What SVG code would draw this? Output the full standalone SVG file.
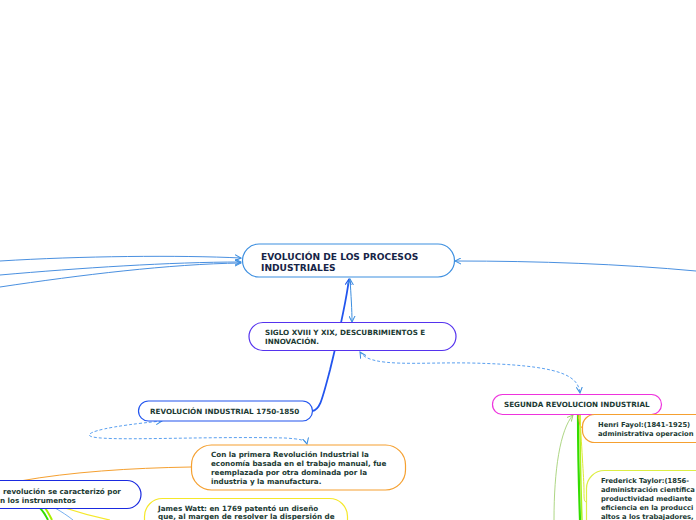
<svg xmlns="http://www.w3.org/2000/svg" width="696" height="520" viewBox="0 0 696 520">
<defs>
<style>
.t{font-family:"DejaVu Sans",Verdana,sans-serif;font-weight:bold;fill:#1b3a33;font-size:7.2px}
.r{font-size:6.75px}
.tm{font-family:"DejaVu Sans",Verdana,sans-serif;font-weight:bold;fill:#162447;font-size:9.1px}
.n{fill:#fff;stroke-width:1.2}
.c{fill:none}
</style>
<marker id="ab" viewBox="0 0 8 8" refX="7" refY="4" markerWidth="7" markerHeight="7" orient="auto-start-reverse" markerUnits="userSpaceOnUse"><path d="M0,0.5 L7,4 L0,7.5" fill="none" stroke="#3d8fe0" stroke-width="1.2"/></marker>
<marker id="ab2" viewBox="0 0 8 8" refX="7" refY="4" markerWidth="7" markerHeight="7" orient="auto-start-reverse" markerUnits="userSpaceOnUse"><path d="M0,0.5 L7,4 L0,7.5" fill="none" stroke="#2255ee" stroke-width="1.2"/></marker>
<marker id="ag" viewBox="0 0 8 8" refX="7" refY="4" markerWidth="7" markerHeight="7" orient="auto" markerUnits="userSpaceOnUse"><path d="M0,0.5 L7,4 L0,7.5" fill="none" stroke="#99cc66" stroke-width="1"/></marker>
</defs>
<rect width="696" height="520" fill="#fff"/>
<g id="connectors">
<path class="c" d="M0,261 C80,256 180,255 241,258" stroke="#4a90e0" stroke-width="1" marker-end="url(#ab)"/>
<path class="c" d="M0,275 C80,268 170,262 241,262" stroke="#4a90e0" stroke-width="1" marker-end="url(#ab)"/>
<path class="c" d="M0,287 C80,275 170,264 241,263" stroke="#4a90e0" stroke-width="1" marker-end="url(#ab)"/>
<path class="c" d="M696,271 C620,264 540,261 455,261" stroke="#4a90e0" stroke-width="1" marker-end="url(#ab)"/>
<path class="c" d="M349,279 C345,310 336,345 330,370 C322,400 320,410 312,411" stroke="#2255ee" stroke-width="1.8" marker-start="url(#ab2)"/>
<path class="c" d="M350,279 C351,295 352,310 352,322" stroke="#3d8fe0" stroke-width="1" marker-start="url(#ab)" marker-end="url(#ab)"/>
<path class="c" d="M360,352 C370,368 420,362 470,363 C560,365 578,375 580,393" stroke="#5aa0f0" stroke-width="1" stroke-dasharray="3,2" marker-start="url(#ab)" marker-end="url(#ab)"/>
<path class="c" d="M162,421 C110,426 85,432 90,436 C100,442 200,436 285,438 C300,439 306,440 307,444" stroke="#5aa0f0" stroke-width="1" stroke-dasharray="3,2" marker-start="url(#ab)" marker-end="url(#ab)"/>
<path class="c" d="M191,467 C130,468 70,472 20,481" stroke="#f5a030" stroke-width="1"/>
<path class="c" d="M40,508 C44,512 46,516 48,520" stroke="#33dd00" stroke-width="2"/>
<path class="c" d="M45,508 C48,512 50,516 52,520" stroke="#aaee00" stroke-width="2"/>
<path class="c" d="M55,508 C62,512 68,516 73,520" stroke="#77b0f0" stroke-width="1"/>
<path class="c" d="M65,508 C80,513 95,517 110,520" stroke="#f5e82a" stroke-width="1.2"/>
<path class="c" d="M578,414 C578,450 579,490 580,520" stroke="#33dd00" stroke-width="2.2"/>
<path class="c" d="M580,414 C580,450 581,490 582,520" stroke="#aaee22" stroke-width="1.5"/>
<path class="c" d="M578,414 C579,422 580,428 583,428" stroke="#f5a030" stroke-width="1"/>
<path class="c" d="M580,414 C581,440 584,480 584,490 C584,500 584,502 587,502" stroke="#dde830" stroke-width="1"/>
<path class="c" d="M554,520 C554,470 560,430 573,415" stroke="#99cc66" stroke-width="0.8" marker-end="url(#ag)"/>
</g>
<g id="main">
<rect class="n" x="242.5" y="244" width="212" height="33" rx="16.5" stroke="#3d8fe0"/>
<text class="tm" x="261" y="259.5">EVOLUCIÓN DE LOS PROCESOS</text>
<text class="tm" x="261" y="270.5">INDUSTRIALES</text>
</g>
<g id="siglo">
<rect class="n" x="249" y="322.5" width="207" height="28" rx="14" stroke="#5533ee"/>
<text class="t" x="265" y="334.5">SIGLO XVIII Y XIX, DESCUBRIMIENTOS E</text>
<text class="t" x="265" y="344">INNOVACIÓN.</text>
</g>
<g id="rev1">
<rect class="n" x="138.5" y="401" width="174" height="20" rx="10" stroke="#2255ee"/>
<text class="t" x="150" y="413.5">REVOLUCIÓN INDUSTRIAL 1750-1850</text>
</g>
<g id="primera">
<rect class="n" x="191.5" y="445" width="214" height="45" rx="20" stroke="#f5a030"/>
<text class="t" x="211" y="456.5">Con la primera Revolución Industrial la</text>
<text class="t" x="211" y="465.5">economía basada en el trabajo manual, fue</text>
<text class="t" x="211" y="474.5">reemplazada por otra dominada por la</text>
<text class="t" x="211" y="483.5">industria y la manufactura.</text>
</g>
<g id="caracterizo">
<rect class="n" x="-20" y="480.5" width="161" height="28" rx="14" stroke="#1a2ae0"/>
<text class="t" x="3" y="493.5">revolución se caracterizó por</text>
<text class="t" x="0" y="502.5">n los instrumentos</text>
</g>
<g id="watt">
<rect class="n" x="144.5" y="498.5" width="203" height="40" rx="18" stroke="#f5e82a"/>
<text class="t" x="158" y="510.5">James Watt: en 1769 patentó un diseño</text>
<text class="t" x="158" y="519">que, al margen de resolver la dispersión de</text>
</g>
<g id="segunda">
<rect class="n" x="492.5" y="394.5" width="169" height="20" rx="10" stroke="#ee33dd"/>
<text class="t" x="504" y="407">SEGUNDA REVOLUCION INDUSTRIAL</text>
</g>
<g id="fayol">
<rect class="n" x="582.5" y="414.5" width="130" height="28" rx="12" stroke="#f5a030"/>
<text class="t r" x="598" y="427">Henri Fayol:(1841-1925)</text>
<text class="t r" x="598" y="436">administrativa operacion</text>
</g>
<g id="taylor">
<rect class="n" x="586.5" y="470.5" width="130" height="70" rx="18" stroke="#ddee44"/>
<text class="t r" x="601" y="483">Frederick Taylor:(1856-</text>
<text class="t r" x="601" y="492">administración científica</text>
<text class="t r" x="601" y="501">productividad mediante</text>
<text class="t r" x="601" y="510">eficiencia en la producci</text>
<text class="t r" x="601" y="518.5">altos a los trabajadores,</text>
</g>
</svg>
